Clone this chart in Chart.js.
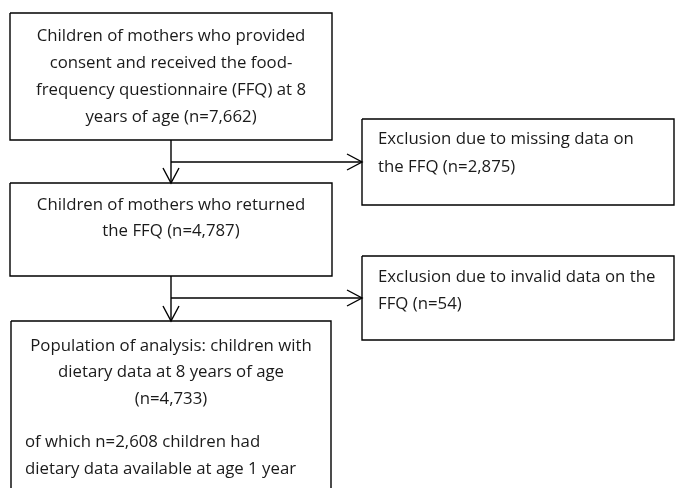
<!DOCTYPE html>
<html>
<head>
<meta charset="utf-8">
<script src="https://cdn.jsdelivr.net/npm/chart.js@4.4.0/dist/chart.umd.min.js"></script>
<style>
  html, body { margin: 0; padding: 0; background: #fff; }
  #wrap { width: 675px; height: 488px; }
</style>
</head>
<body>
<div id="wrap"><canvas id="flow" width="675" height="488"></canvas></div>
<script>
// flow boxes: left, top, right, bottom (page units)
const boxNames = ["consent", "returned", "missing", "invalid", "analysis"];
const boxLeft = [10, 10, 362, 362, 11];
const boxTop = [13, 183, 119, 256, 321];
const boxRight = [332, 332, 674, 674, 331];
const boxBottom = [140, 276, 205, 340, 500];

// arrows: from -> to, drawn as polyline with open head at the end
const arrowFromX = [171, 171, 171, 171];
const arrowFromY = [140, 162, 276, 298];
const arrowToX = [171, 362, 171, 362];
const arrowToY = [183, 162, 321, 298];

// text lines inside the boxes
const textLines = [
  "Children of mothers who provided",
  "consent and received the food-",
  "frequency questionnaire (FFQ) at 8",
  "years of age (n=7,662)",
  "Children of mothers who returned",
  "the FFQ (n=4,787)",
  "Exclusion due to missing data on",
  "the FFQ (n=2,875)",
  "Exclusion due to invalid data on the",
  "FFQ (n=54)",
  "Population of analysis: children with",
  "dietary data at 8 years of age",
  "(n=4,733)",
  "of which n=2,608 children had",
  "dietary data available at age 1 year"
];
const textX = [171, 171, 171, 171, 171, 171, 378, 378, 378, 378, 171, 171, 171, 25, 25];
const textY = [36, 63, 90, 117, 205, 231, 139, 167, 277, 304, 346, 372, 399, 442, 469];
const textAlign = ["center", "center", "center", "center", "center", "center", "left", "left", "left", "left", "center", "center", "center", "left", "left"];

const ink = "#000000";
const datasets = [];

boxNames.forEach((name, i) => {
  datasets.push({
    label: name,
    data: [
      { x: boxLeft[i], y: boxTop[i] },
      { x: boxRight[i], y: boxTop[i] },
      { x: boxRight[i], y: boxBottom[i] },
      { x: boxLeft[i], y: boxBottom[i] },
      { x: boxLeft[i], y: boxTop[i] }
    ],
    showLine: true,
    borderColor: ink,
    borderWidth: 1.4,
    pointRadius: 0,
    fill: false,
    tension: 0
  });
});

// arrow shafts and open heads
const headLen = 15, headHalf = 8;
arrowFromX.forEach((fx, i) => {
  const tx = arrowToX[i], ty = arrowToY[i], fy = arrowFromY[i];
  datasets.push({
    data: [{ x: fx, y: fy }, { x: tx, y: ty }],
    showLine: true, borderColor: ink, borderWidth: 1.4, pointRadius: 0
  });
  const dx = Math.sign(tx - fx), dy = Math.sign(ty - fy);
  // head wings perpendicular to the direction
  const bx = tx - dx * headLen, by = ty - dy * headLen;
  datasets.push({
    data: [
      { x: bx - dy * headHalf, y: by - dx * headHalf },
      { x: tx, y: ty },
      { x: bx + dy * headHalf, y: by + dx * headHalf }
    ],
    showLine: true, borderColor: ink, borderWidth: 1.4, pointRadius: 0
  });
});

const boxText = {
  id: "boxText",
  afterDatasetsDraw(chart) {
    const { ctx, scales } = chart;
    ctx.save();
    ctx.fillStyle = "#1a1a1a";
    ctx.font = "16.8px 'Open Sans'";
    ctx.textBaseline = "middle";
    textLines.forEach((t, i) => {
      ctx.textAlign = textAlign[i];
      ctx.fillText(t, scales.x.getPixelForValue(textX[i]), scales.y.getPixelForValue(textY[i]));
    });
    ctx.restore();
  }
};

new Chart(document.getElementById("flow"), {
  type: "scatter",
  data: { datasets },
  options: {
    responsive: false,
    animation: false,
    layout: { padding: 0 },
    plugins: { legend: { display: false }, tooltip: { enabled: false } },
    scales: {
      x: { type: "linear", min: 0, max: 675, display: false },
      y: { type: "linear", min: 0, max: 488, reverse: true, display: false }
    }
  },
  plugins: [boxText]
});
</script>
</body>
</html>
